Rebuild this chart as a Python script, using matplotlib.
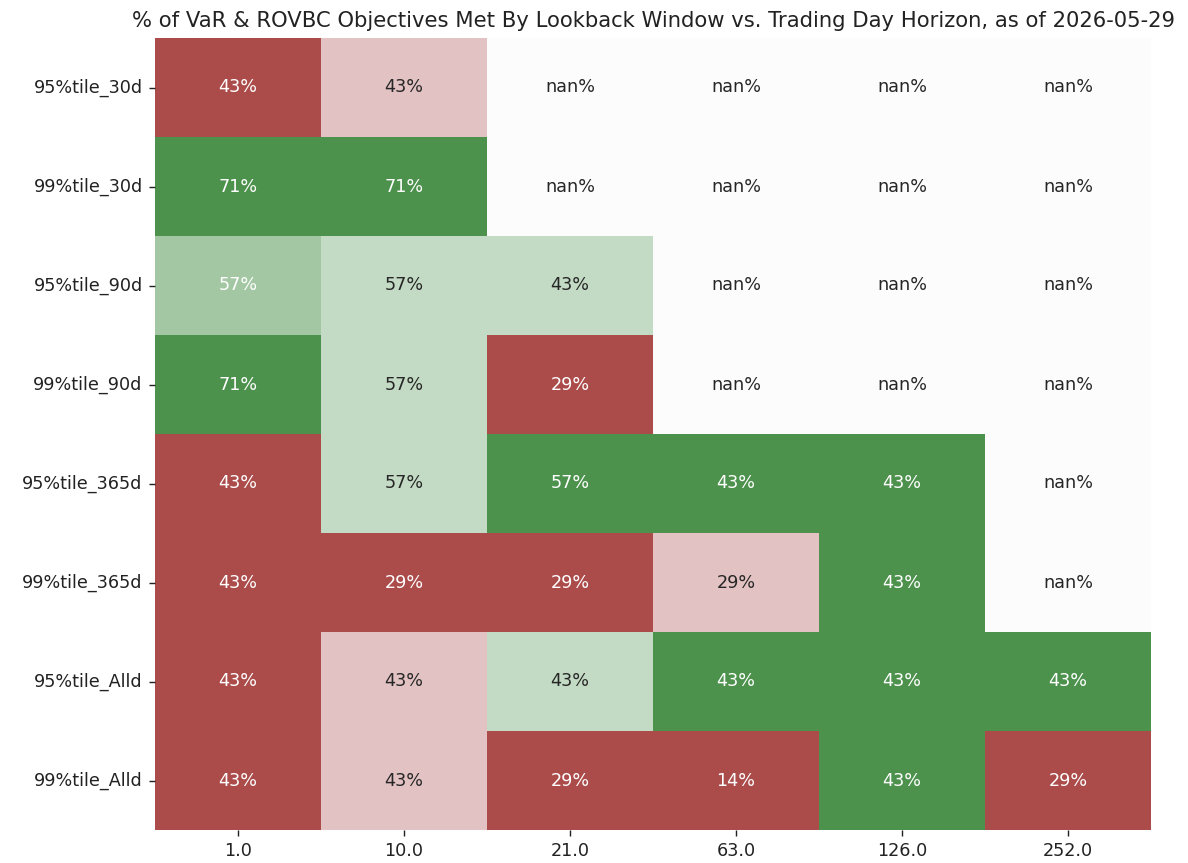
import numpy as np
import matplotlib
matplotlib.use("Agg")
import matplotlib.pyplot as plt
import seaborn as sns
from matplotlib.colors import ListedColormap

horizons = [1.0, 10.0, 21.0, 63.0, 126.0, 252.0]
windows = ["95%tile_30d", "99%tile_30d", "95%tile_90d", "99%tile_90d",
           "95%tile_365d", "99%tile_365d", "95%tile_Alld", "99%tile_Alld"]

nan = np.nan
pct_met = np.array([
    [43, 43, nan, nan, nan, nan],
    [71, 71, nan, nan, nan, nan],
    [57, 57, 43, nan, nan, nan],
    [71, 57, 29, nan, nan, nan],
    [43, 57, 57, 43, 43, nan],
    [43, 29, 29, 29, 43, nan],
    [43, 43, 43, 43, 43, 43],
    [43, 43, 29, 14, 43, 29],
])

# status of each cell: 0 bad, 1 weak bad, 2 no data, 3 weak good, 4 fair good, 5 good
status = np.array([
    [0, 1, 2, 2, 2, 2],
    [5, 5, 2, 2, 2, 2],
    [4, 3, 3, 2, 2, 2],
    [5, 3, 0, 2, 2, 2],
    [0, 3, 5, 5, 5, 2],
    [0, 0, 0, 1, 5, 2],
    [0, 1, 3, 5, 5, 5],
    [0, 1, 0, 0, 5, 0],
])

status_colors = ["#ab4c4b", "#e3c2c3", "#fdfcfc", "#c3dbc4", "#a2c7a2", "#4c914c"]
light_text = {0, 4, 5}

labels = np.array([["nan%" if np.isnan(v) else "{:.0f}%".format(v) for v in row]
                   for row in pct_met])

DPI = 127
fig = plt.figure(figsize=(1188 / DPI, 863 / DPI), dpi=DPI)
ax = fig.add_axes([155 / 1188, 1 - 830 / 863, (1151 - 155) / 1188, (830 - 38) / 863])

sns.heatmap(status, annot=labels, fmt="", cmap=ListedColormap(status_colors),
            vmin=-0.5, vmax=5.5, cbar=False, ax=ax,
            xticklabels=horizons, yticklabels=windows)

# fix annotation colours per status
for txt, code in zip(ax.texts, status.flatten()):
    txt.set_color("w" if code in light_text else ".15")

ax.set_yticklabels(windows, rotation=0)
ax.tick_params(colors="#222222")
ax.set_title("% of VaR & ROVBC Objectives Met By Lookback Window vs. Trading Day Horizon, as of 2026-05-29",
             color="#222222")

fig.savefig("out.png", dpi=DPI)
